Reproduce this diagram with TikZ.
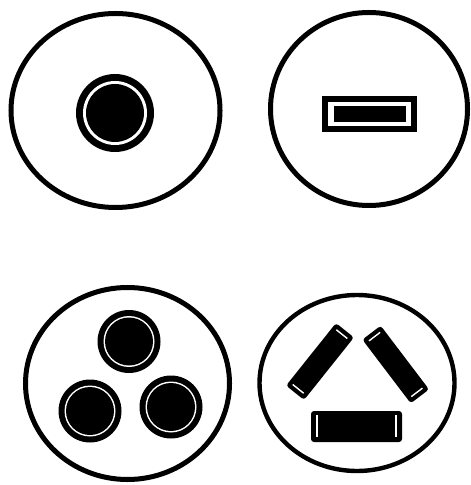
\documentclass[tikz,border=0pt]{standalone}
\usetikzlibrary{calc}
\tikzset{
  face/.style={draw=black,line width=2.5pt,fill=white},
  pinring/.style={fill=black},
  pingap/.style={fill=white},
  pincore/.style={fill=black},
  slotframe/.style={draw=black,line width=3pt,fill=white},
  slotcore/.style={fill=black},
  blade/.style={fill=black,rounded corners=1.5pt},
  bladeslit/.style={draw=white,line width=0.7pt}
}

\begin{document}
\begin{tikzpicture}[x=0.5pt,y=-0.5pt]
  \useasboundingbox (0,0) rectangle (470,485);

  % four faces
  \coordinate (tl) at (115.5,110.5);
  \coordinate (tr) at (369,109);
  \coordinate (bl) at (127.5,383.5);
  \coordinate (br) at (357,383);
  \draw[face] (tl) ellipse[x radius=104.5,y radius=97];
  \draw[face] (tr) ellipse[x radius=98.5,y radius=96.5];
  \draw[face] (bl) ellipse[x radius=102,y radius=96];
  \draw[face,line width=2.2pt] (br) ellipse[x radius=97.5,y radius=88];

  % single round pin
  \coordinate (pin) at (115,113);
  \fill[pinring] (pin) circle[radius=39];
  \fill[pingap] (pin) circle[radius=32];
  \fill[pincore] (pin) circle[radius=29];

  % flat slot
  \draw[slotframe] (325,99) rectangle (414,129);
  \fill[slotcore] (334,106) rectangle (406,122);

  % three round pins
  \foreach \cx/\cy in {129/341.5, 90/411, 171/407} {
    \fill[pinring] (\cx,\cy) circle[radius=31.5];
    \fill[pingap] (\cx,\cy) circle[radius=25.5];
    \fill[pincore] (\cx,\cy) circle[radius=24];
  }

  % three flat blades
  \foreach \bx/\by/\ang in {320/361.5/51.4, 395.7/364.5/-52.8} {
    \begin{scope}[shift={(\bx,\by)},rotate=\ang]
      \fill[blade] (-40,-11.5) rectangle (40,11.5);
      \draw[bladeslit] (-35,-7) -- (-35,7);
      \draw[bladeslit] (35,-7) -- (35,7);
    \end{scope}
  }
  \fill[blade] (311,411) rectangle (402,442);
  \draw[bladeslit] (317,415) -- (317,437);
  \draw[bladeslit] (396,415) -- (396,437);
\end{tikzpicture}
\end{document}
